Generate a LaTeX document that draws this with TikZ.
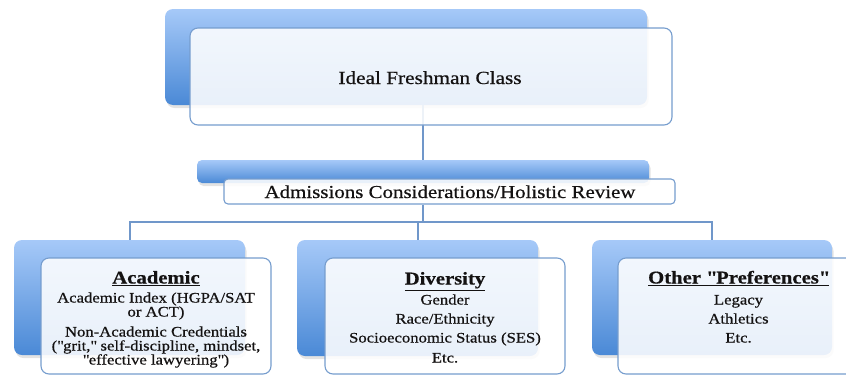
\documentclass[tikz,border=0pt]{standalone}
\usepackage{fontspec}
\setmainfont[FakeStretch=1.15,FakeBold=0.6]{Liberation Serif}
\usetikzlibrary{shadows}
\definecolor{bluetop}{RGB}{166,201,248}
\definecolor{bluebot}{RGB}{74,137,214}
\definecolor{edgeblue}{RGB}{118,157,206}
\definecolor{connblue}{RGB}{112,151,202}
\definecolor{inkcol}{RGB}{20,18,18}
\tikzset{
  backbox/.style={rounded corners=8pt, top color=bluetop, bottom color=bluebot, draw=none,
    inner sep=0pt, drop shadow={opacity=0.22, shadow xshift=1.5pt, shadow yshift=-3pt}},
  frontbox/.style={rounded corners=8pt, draw=edgeblue, line width=1.1pt, fill=white,
    fill opacity=0.88, inner sep=0pt},
  conn/.style={draw=connblue, line width=2pt},
  titletxt/.style={font=\fontsize{18.5}{22}\selectfont, text=inkcol, anchor=base, inner sep=0pt},
  headtxt/.style={font=\fontsize{18}{20}\selectfont\bfseries, text=inkcol, anchor=base, inner sep=0pt},
  bodytxt/.style={font=\fontsize{14.5}{16}\selectfont, text=inkcol, anchor=base, inner sep=0pt}
}
\newcommand{\qd}{\textquotedbl}
\begin{document}
\begin{tikzpicture}[x=1pt,y=-1pt]
\useasboundingbox (0,0) rectangle (846,375);
\clip (0,0) rectangle (846,375);
% coordinates for connectors
\coordinate (c0) at (423,0);
\coordinate (hub) at (423,222);
% back boxes
\node[backbox, minimum width=482pt, minimum height=96pt] (topback) at (406,57) {};
\node[backbox, rounded corners=5pt, minimum width=452pt, minimum height=23pt] (barback) at (423,171.5) {};
\node[backbox, minimum width=231pt, minimum height=115pt] (acadback) at (129.5,297.5) {};
\node[backbox, minimum width=241pt, minimum height=116pt] (divback) at (417.5,298) {};
\node[backbox, minimum width=240pt, minimum height=115pt] (othback) at (712,297.5) {};
% connectors
\draw[conn] (topback.south -| c0) -- (barback.north -| c0);
\draw[conn] (acadback.north) |- (hub) -| (othback.north);
\draw[conn] (hub -| divback.north) -- (divback.north);
% front boxes
\node[frontbox, minimum width=482pt, minimum height=97pt] (topfront) at (431,76.5) {};
\node[frontbox, rounded corners=4pt, minimum width=451pt, minimum height=25pt] (admfront) at (449.5,191.5) {};
\node[frontbox, minimum width=230pt, minimum height=116pt] (acadfront) at (156,316) {};
\node[frontbox, minimum width=240pt, minimum height=116pt] (divfront) at (445,316) {};
\node[frontbox, minimum width=240pt, minimum height=116pt] (othfront) at (738,316) {};
\draw[conn] (admfront.south -| c0) -- (hub);
% texts
\node[titletxt] (toptxt) at (430,84) {Ideal Freshman Class};
\node[titletxt, font=\fontsize{18.2}{22}\selectfont] (admtxt) at (450,198) {Admissions Considerations/Holistic Review};
% academic
\node[headtxt] (acadh) at (156,283.5) {\underline{Academic}};
\node[bodytxt] (acad1) at (156,302.5) {Academic Index (HGPA/SAT};
\node[bodytxt] (acad2) at (156,316.5) {or ACT)};
\node[bodytxt] (acad3) at (156,336.5) {Non-Academic Credentials};
\node[bodytxt] (acad4) at (156,350.5) {(\qd grit,\qd\ self-discipline, mindset,};
\node[bodytxt] (acad5) at (156,364.5) {\qd effective lawyering\qd)};
% diversity
\node[headtxt] (divh) at (445,284.5) {\underline{Diversity}};
\node[bodytxt] (div1) at (445,304.5) {Gender};
\node[bodytxt] (div2) at (445,323.5) {Race/Ethnicity};
\node[bodytxt] (div3) at (445,342.5) {Socioeconomic Status (SES)};
\node[bodytxt] (div4) at (445,362.5) {Etc.};
% other
\node[headtxt] (othh) at (738.5,283.5) {\underline{Other \qd Preferences\qd}};
\node[bodytxt] (oth1) at (738.5,304.5) {Legacy};
\node[bodytxt] (oth2) at (738.5,323.5) {Athletics};
\node[bodytxt] (oth3) at (738.5,342.5) {Etc.};
\end{tikzpicture}
\end{document}
